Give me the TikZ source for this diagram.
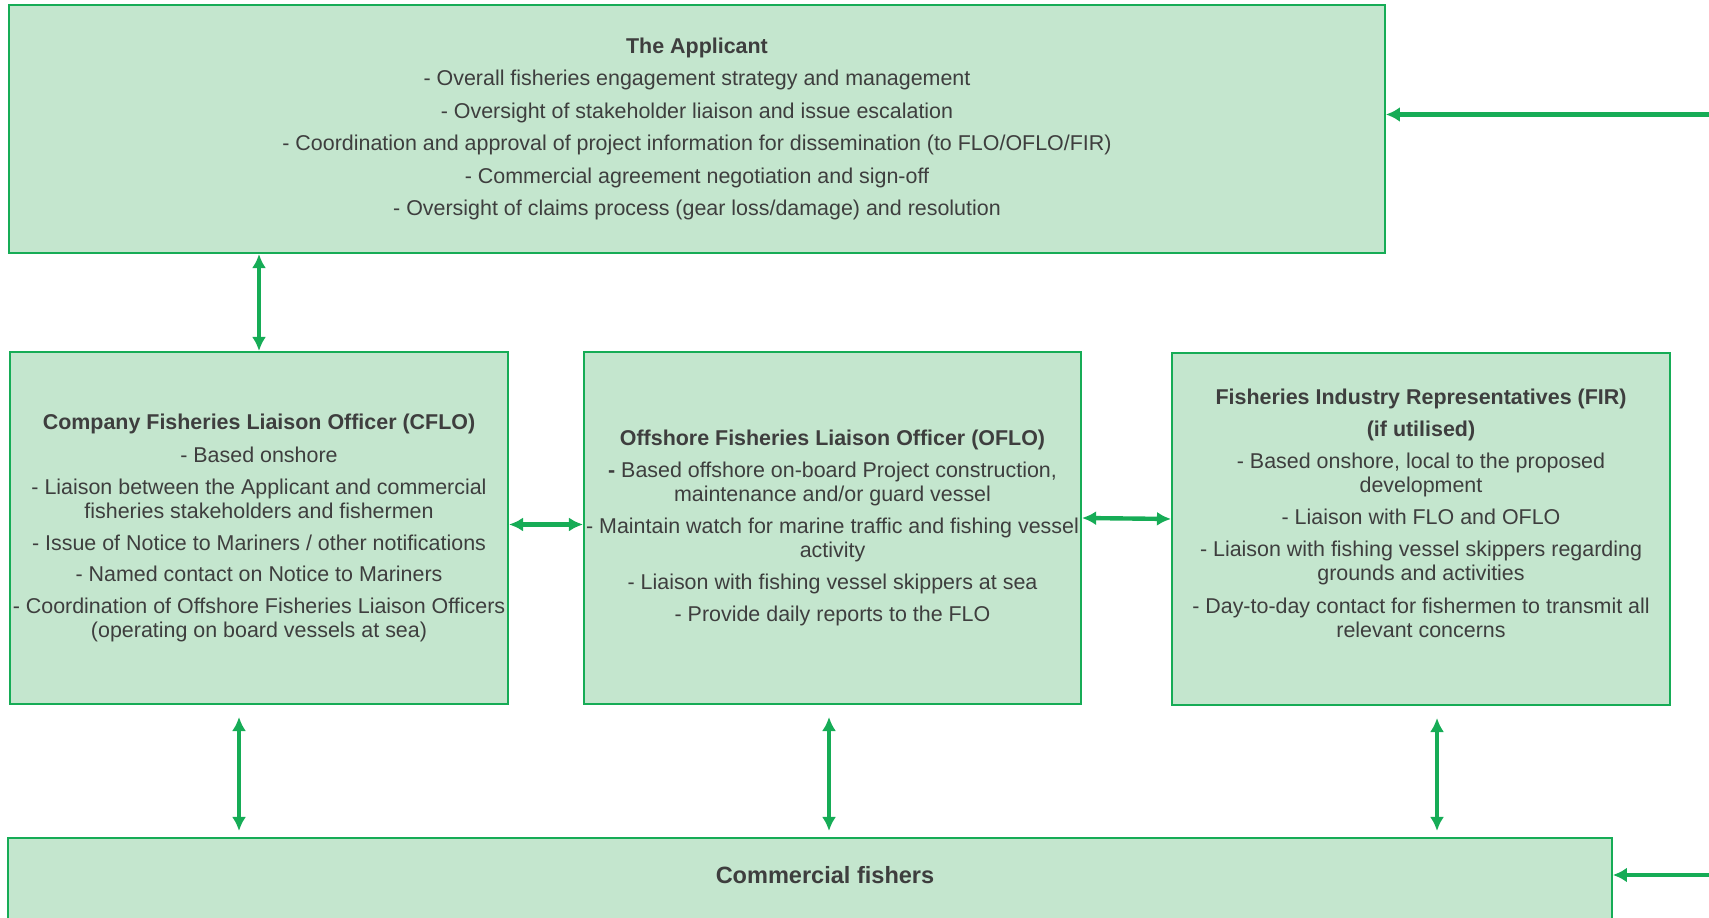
\documentclass[tikz,border=0pt]{standalone}
\usepackage{fontspec}
\setmainfont{Liberation Sans}
\usetikzlibrary{arrows.meta}
\definecolor{boxfill}{RGB}{196,230,206}
\definecolor{boxline}{RGB}{22,172,86}
\definecolor{boxtext}{RGB}{62,62,62}
\begin{document}
\begin{tikzpicture}[x=0.02cm, y=-0.02cm,
  box/.style={draw=boxline, fill=boxfill, line width=1.2pt, rectangle, inner sep=0pt,
    align=center, text=boxtext, font=\fontsize{12.2}{13.7}\selectfont},
  link/.style={{Latex[length=8pt,width=8pt]}-{Latex[length=8pt,width=8pt]}, draw=boxline, line width=2pt},
  sidelink/.style={link, line width=2.5pt},
  feed/.style={-{Latex[length=8pt,width=8.5pt]}, draw=boxline, line width=2.5pt}]
\useasboundingbox (0,0) rectangle (1709,918);
\clip (0,0) rectangle (1709,918);

\node[box, minimum width=27.52cm, minimum height=4.96cm] (applicant) at (697,129)
  {\textbf{The Applicant}\\[4.8pt]
   - Overall fisheries engagement strategy and management\\[4.8pt]
   - Oversight of stakeholder liaison and issue escalation\\[4.8pt]
   - Coordination and approval of project information for dissemination (to FLO/OFLO/FIR)\\[4.8pt]
   - Commercial agreement negotiation and sign-off\\[4.8pt]
   - Oversight of claims process (gear loss/damage) and resolution};

\node[box, minimum width=9.96cm, minimum height=7.04cm] (cflo) at (259,528)
  {\textbf{Company Fisheries Liaison Officer (CFLO)}\\[5.2pt]
   - Based onshore\\[4.4pt]
   - Liaison between the Applicant and commercial\\ fisheries stakeholders and fishermen\\[4.4pt]
   - Issue of Notice to Mariners / other notifications\\[4.4pt]
   - Named contact on Notice to Mariners\\[4.4pt]
   - Coordination of Offshore Fisheries Liaison Officers\\ (operating on board vessels at sea)};

\node[box, minimum width=9.94cm, minimum height=7.04cm] (oflo) at (832.5,528)
  {\textbf{Offshore Fisheries Liaison Officer (OFLO)}\\[4.6pt]
   \textbf{-} Based offshore on-board Project construction,\\ maintenance and/or guard vessel\\[4.6pt]
   - Maintain watch for marine traffic and fishing vessel\\ activity\\[4.6pt]
   - Liaison with fishing vessel skippers at sea\\[4.6pt]
   - Provide daily reports to the FLO};

\node[box, minimum width=9.96cm, minimum height=7.04cm] (fir) at (1421,529)
  {\textbf{Fisheries Industry Representatives (FIR)}\\[4.6pt]
   \textbf{(if utilised)}\\[4.6pt]
   - Based onshore, local to the proposed\\ development\\[4.6pt]
   - Liaison with FLO and OFLO\\[4.6pt]
   - Liaison with fishing vessel skippers regarding\\ grounds and activities\\[4.6pt]
   - Day-to-day contact for fishermen to transmit all\\ relevant concerns\\[4.6pt]
   \mbox{}};

\node[box, minimum width=32.08cm, minimum height=2cm] (fishers) at (810,888) {};
\node[text=boxtext, font=\fontsize{13.4}{15}\selectfont\bfseries] (fisherstitle) at (825,875) {Commercial fishers};

\coordinate (applicantfeed) at (1709,114.5);
\coordinate (fishersfeed) at (1709,875);

% links between the parties
\draw[link] (applicant.south -| cflo.north) -- (cflo.north);
\draw[sidelink] ([yshift=2pt]cflo.east) -- ([yshift=2pt]oflo.west);
\draw[sidelink] ([yshift=5.7pt]oflo.east) -- ([yshift=5.7pt]fir.west);
\draw[link, shorten <=6.8pt, shorten >=3.4pt] ([xshift=-0.4cm]cflo.south) -- ([xshift=-0.4cm]cflo.south |- fishers.north);
\draw[link, shorten <=6.8pt, shorten >=3.4pt] ([xshift=-0.07cm]oflo.south) -- ([xshift=-0.07cm]oflo.south |- fishers.north);
\draw[link, shorten <=6.8pt, shorten >=3.4pt] ([xshift=0.32cm]fir.south) -- ([xshift=0.32cm]fir.south |- fishers.north);

% incoming from the right
\draw[feed] (applicantfeed) -- (applicantfeed -| applicant.east);
\draw[feed] (fishersfeed) -- (fishersfeed -| fishers.east);
\end{tikzpicture}
\end{document}
